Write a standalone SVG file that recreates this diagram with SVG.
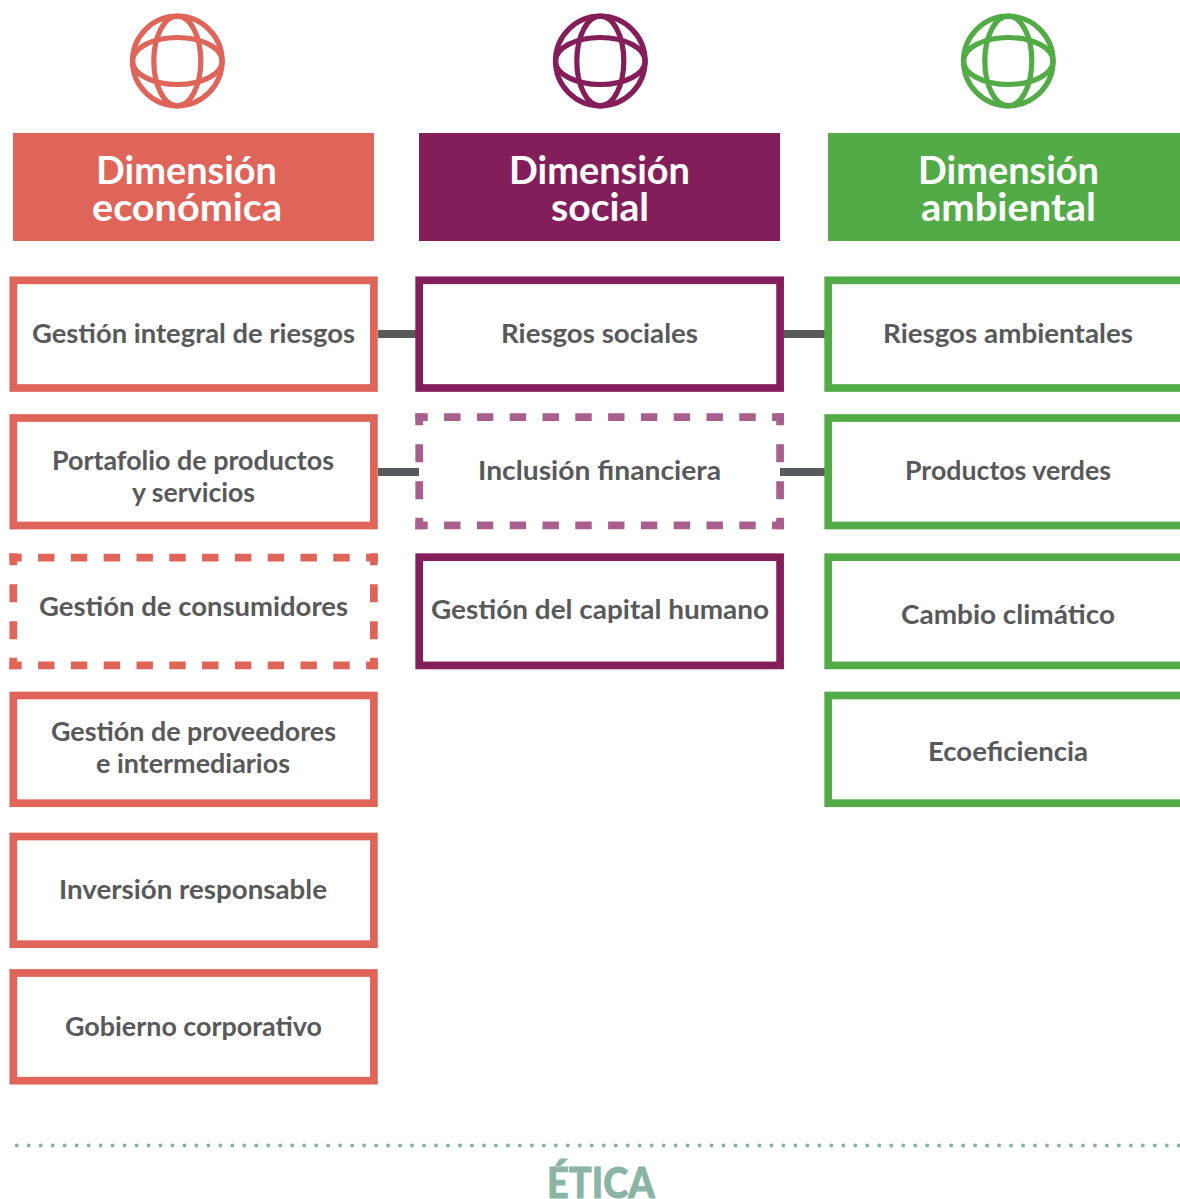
<svg xmlns="http://www.w3.org/2000/svg" width="1180" height="1199" viewBox="0 0 1180 1199">
<style>
text{font-family:"Lato","Noto Sans",sans-serif;font-weight:700;text-anchor:middle}
.t{font-size:27px;fill:#58595b}
.h{font-size:39px;fill:#fff}
.b{fill:#fff;stroke-width:7.7}
.r{stroke:#df6459}.p{stroke:#841e5a}.g{stroke:#53ab47}
.dh,.dv{fill:none;stroke-width:7.7}
.dh{stroke-dasharray:16.4 16.4;stroke-dashoffset:4}
.dv{stroke-dasharray:12 19 18 19 18 18.5 12}
.i{fill:none;stroke-width:5.200}
.c{stroke:#58595b;stroke-width:8;fill:none}
</style>
<defs>
<g id="globe"><circle r="44.800" class="i"/><ellipse rx="23.500" ry="44.800" class="i"/><ellipse rx="44.800" ry="23.500" class="i"/></g>
</defs>
<g id="connectors">
<path class="c" d="M378 334H416M784 334H825M378 472H419M780 472H825"/>
</g>
<g id="icon-eco" class="r" transform="translate(177.300 61)"><use href="#globe"/></g>
<g id="icon-soc" class="p" transform="translate(600.300 61)"><use href="#globe"/></g>
<g id="icon-amb" class="g" transform="translate(1008.300 61)"><use href="#globe"/></g>
<g id="head-eco"><rect x="13" y="133" width="361" height="108" fill="#df6459"/><text class="h" x="186.500" y="183.500" textLength="181" lengthAdjust="spacingAndGlyphs">Dimensión</text><text class="h" x="187" y="220.500" textLength="190" lengthAdjust="spacingAndGlyphs">económica</text></g>
<g id="head-soc"><rect x="419" y="133" width="361" height="108" fill="#841e5a"/><text class="h" x="599.500" y="183.500" textLength="181" lengthAdjust="spacingAndGlyphs">Dimensión</text><text class="h" x="600" y="220.500" textLength="98" lengthAdjust="spacingAndGlyphs">social</text></g>
<g id="head-amb"><rect x="828" y="133" width="352" height="108" fill="#53ab47"/><text class="h" x="1008.500" y="183.500" textLength="181" lengthAdjust="spacingAndGlyphs">Dimensión</text><text class="h" x="1008.500" y="220.500" textLength="175" lengthAdjust="spacingAndGlyphs">ambiental</text></g>

<g id="n-riesgos"><rect class="b r" x="13.300" y="280.300" width="360.600" height="107.700"/><text class="t" x="193.500" y="343" textLength="323" lengthAdjust="spacingAndGlyphs">Gestión integral de riesgos</text></g>
<g id="n-portafolio"><rect class="b r" x="13.300" y="418" width="360.600" height="107.500"/><text class="t" x="193" y="470" textLength="282" lengthAdjust="spacingAndGlyphs">Portafolio de productos</text><text class="t" x="193.500" y="502" textLength="123" lengthAdjust="spacingAndGlyphs">y servicios</text></g>
<g id="n-consumidores"><rect x="13" y="557" width="361" height="108" fill="#fff"/><path class="dh r" d="M9.300 557.600H378M9.300 665.400H378"/><path class="dv r" d="M13.300 553.300V669.300"/><path class="dv r" d="M373.900 553.300V669.300"/><text class="t" x="193.500" y="616" textLength="309" lengthAdjust="spacingAndGlyphs">Gestión de consumidores</text></g>
<g id="n-proveedores"><rect class="b r" x="13.300" y="695.500" width="360.600" height="107.700"/><text class="t" x="193.500" y="741" textLength="285" lengthAdjust="spacingAndGlyphs">Gestión de proveedores</text><text class="t" x="193" y="773" textLength="194" lengthAdjust="spacingAndGlyphs">e intermediarios</text></g>
<g id="n-inversion"><rect class="b r" x="13.300" y="836.500" width="360.600" height="107.700"/><text class="t" x="193" y="899" textLength="268" lengthAdjust="spacingAndGlyphs">Inversión responsable</text></g>
<g id="n-gobierno"><rect class="b r" x="13.300" y="973" width="360.600" height="107.700"/><text class="t" x="193.500" y="1036" textLength="257" lengthAdjust="spacingAndGlyphs">Gobierno corporativo</text></g>

<g id="n-sociales"><rect class="b p" x="419.200" y="280.300" width="360.900" height="107.700"/><text class="t" x="599.500" y="343" textLength="197" lengthAdjust="spacingAndGlyphs">Riesgos sociales</text></g>
<g id="n-inclusion"><rect x="419" y="417" width="361" height="108" fill="#fff"/><path class="dh" stroke="#a95f8e" d="M415.300 417.200H784M415.300 525.400H784"/><path class="dv" stroke="#a95f8e" d="M419.200 413.300V529.300"/><path class="dv" stroke="#a95f8e" d="M780.100 413.300V529.300"/><text class="t" x="599.500" y="480" textLength="243" lengthAdjust="spacingAndGlyphs">Inclusión financiera</text></g>
<g id="n-capital"><rect class="b p" x="419.200" y="557.200" width="360.900" height="108.200"/><text class="t" x="600" y="619" textLength="338" lengthAdjust="spacingAndGlyphs">Gestión del capital humano</text></g>

<g id="n-ambientales"><rect class="b g" x="828.200" y="280.300" width="400" height="107.700"/><text class="t" x="1008" y="343" textLength="250" lengthAdjust="spacingAndGlyphs">Riesgos ambientales</text></g>
<g id="n-verdes"><rect class="b g" x="828.200" y="418" width="400" height="107.500"/><text class="t" x="1008" y="480" textLength="206" lengthAdjust="spacingAndGlyphs">Productos verdes</text></g>
<g id="n-cambio"><rect class="b g" x="828.200" y="557.200" width="400" height="108.200"/><text class="t" x="1008" y="624" textLength="214" lengthAdjust="spacingAndGlyphs">Cambio climático</text></g>
<g id="n-eco"><rect class="b g" x="828.200" y="695.500" width="400" height="107.700"/><text class="t" x="1008" y="761" textLength="160" lengthAdjust="spacingAndGlyphs">Ecoeficiencia</text></g>

<g id="etica"><path d="M16.700 1145.500H1184" fill="none" stroke="#84b3a3" stroke-width="4" stroke-linecap="round" stroke-dasharray="0 11.980"/><text x="601" y="1198" font-size="42" style="font-weight:900" fill="#8ab5a4" stroke="#8ab5a4" stroke-width="0.800" textLength="108" lengthAdjust="spacingAndGlyphs">ÉTICA</text></g>
</svg>
